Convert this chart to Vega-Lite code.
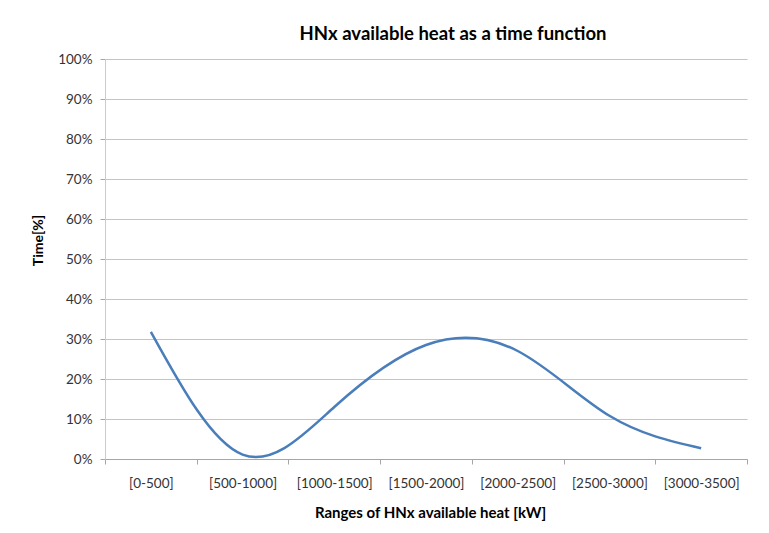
{
  "$schema": "https://vega.github.io/schema/vega-lite/v6.json",
  "autosize": "none",
  "width": 642,
  "height": 400,
  "padding": {"left": 105, "top": 59, "right": 22, "bottom": 74},
  "background": "white",
  "config": {
    "view": {"stroke": null},
    "font": "Lato"
  },
  "title": {
    "text": "HNx available heat as a time function",
    "font": "Lato",
    "fontSize": 18.5,
    "fontWeight": "bold",
    "color": "#000000",
    "anchor": "middle",
    "dx": 27,
    "offset": 9
  },
  "data": {
    "values": [
      {"range": "[0-500]", "time": 0.318},
      {"range": "[500-1000]", "time": 0.011},
      {"range": "[1000-1500]", "time": 0.13},
      {"range": "[1500-2000]", "time": 0.285},
      {"range": "[2000-2500]", "time": 0.27},
      {"range": "[2500-3000]", "time": 0.108},
      {"range": "[3000-3500]", "time": 0.027}
    ]
  },
  "mark": {"type": "line", "interpolate": "natural", "color": "#4a7ebb", "strokeWidth": 2.5},
  "encoding": {
    "x": {
      "field": "range",
      "type": "ordinal",
      "sort": null,
      "scale": {"paddingInner": 0, "paddingOuter": 0},
      "axis": {
        "title": "Ranges of HNx available heat [kW]",
        "titleFont": "Lato",
        "titleFontSize": 15,
        "titleFontWeight": "bold",
        "titleColor": "#000000",
        "titleX": 325,
        "titleY": 53,
        "titleBaseline": "middle",
        "titleAlign": "center",
        "labelAngle": 0,
        "labelFont": "Lato",
        "labelFontSize": 13.5,
        "labelColor": "#333333",
        "labelPadding": 12,
        "tickBand": "extent",
        "tickSize": 5,
        "tickColor": "#a6a6a6",
        "domainColor": "#a6a6a6",
        "grid": false
      }
    },
    "y": {
      "field": "time",
      "type": "quantitative",
      "scale": {"domain": [0, 1], "nice": false},
      "axis": {
        "title": "Time[%]",
        "titleFont": "Lato",
        "titleFontSize": 14,
        "titleFontWeight": "bold",
        "titleColor": "#000000",
        "titleAngle": -90,
        "titleX": -67,
        "titleY": 181,
        "titleAlign": "center",
        "titleBaseline": "middle",
        "values": [0, 0.1, 0.2, 0.3, 0.4, 0.5, 0.6, 0.7, 0.8, 0.9, 1],
        "format": ".0%",
        "labelFont": "Lato",
        "labelFontSize": 13.5,
        "labelColor": "#333333",
        "labelPadding": 8,
        "tickSize": 5,
        "tickColor": "#a6a6a6",
        "domainColor": "#cccccc",
        "grid": true,
        "gridColor": "#c4c4c4",
        "gridWidth": 1
      }
    }
  }
}
